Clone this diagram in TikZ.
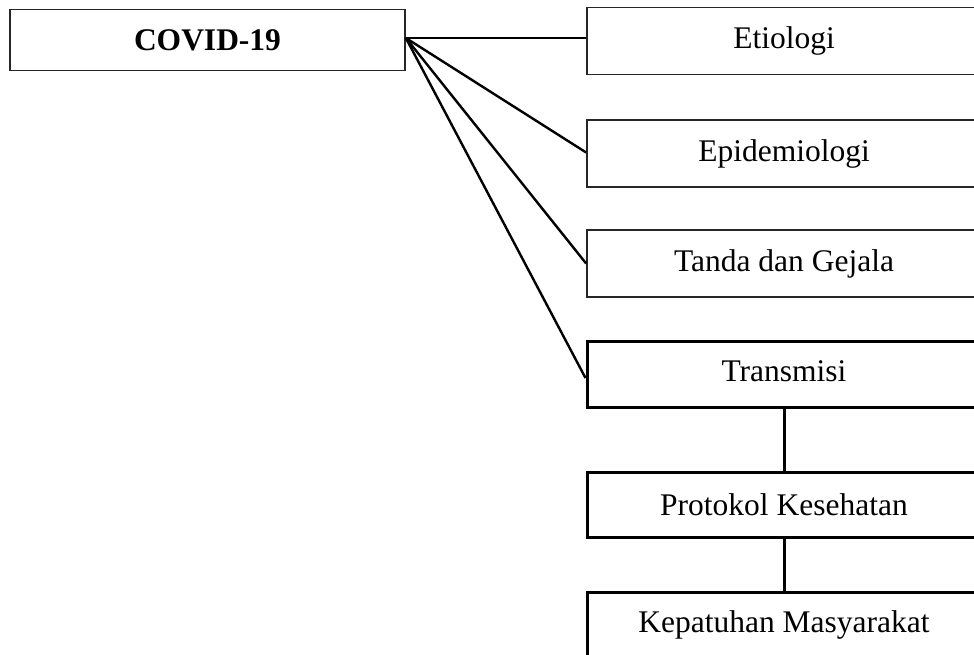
\documentclass[tikz,border=0pt]{standalone}
\usepackage{fontspec}
\setmainfont{Liberation Serif}
\usetikzlibrary{calc}
\begin{document}
\begin{tikzpicture}[x=1pt,y=-1pt,
  thinbox/.style={draw=black!85, line width=1.7pt, rectangle, inner sep=0pt, font=\fontsize{31.5}{36}\selectfont},
  thickbox/.style={draw=black, line width=3pt, rectangle, inner sep=0pt, font=\fontsize{31.5}{36}\selectfont},
  link/.style={draw=black, line width=2.4pt}]
\useasboundingbox (0,0) rectangle (974,655);
\clip (0,0) rectangle (974,655);
\node[thinbox, minimum width=395, minimum height=61, font=\fontsize{31.5}{36}\selectfont\bfseries] (covid) at (207.5,40) {COVID-19};
\node[thinbox, minimum width=394, minimum height=67] (eti) at (784,41) {Etiologi};
\node[thinbox, minimum width=394, minimum height=67] (epi) at (784,153.5) {Epidemiologi};
\node[thinbox, minimum width=394, minimum height=67] (tanda) at (784,263.5) {Tanda dan Gejala};
\node[thickbox, minimum width=394, minimum height=66, text height=28pt, text depth=14pt] (trans) at (784,374) {Transmisi};
\node[thickbox, minimum width=394, minimum height=65] (prot) at (784,504.5) {Protokol Kesehatan};
\node[thickbox, minimum width=394, minimum height=66] (kep) at (784,625) {Kepatuhan Masyarakat};
\coordinate (hub) at ($(covid.east)+(0,-2)$);
\draw[link] (hub) -- (eti.west |- hub);
\draw[link] (hub) -- ($(epi.west)+(0,-1)$);
\draw[link] (hub) -- (tanda.west);
\draw[link] (hub) -- ($(trans.west)+(0,4)$);
\draw[link, line width=3pt] (trans.south) -- (prot.north);
\draw[link, line width=3pt] (prot.south) -- (kep.north);
\end{tikzpicture}
\end{document}
